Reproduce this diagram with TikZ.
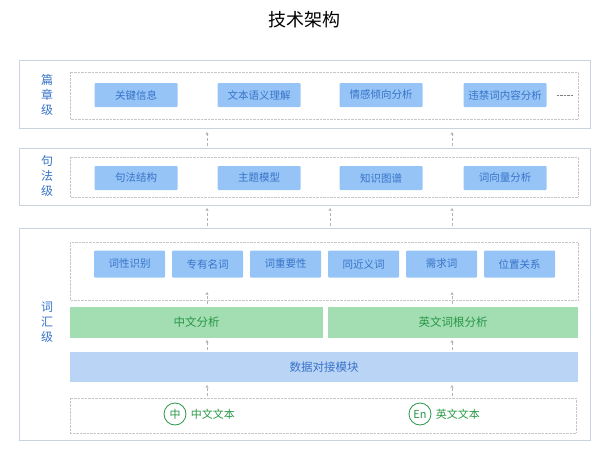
\documentclass[tikz,border=0pt]{standalone}
\usepackage{fontspec}
\setmainfont{Noto Sans CJK SC}
\usetikzlibrary{positioning,arrows.meta}
\definecolor{myblue}{RGB}{150,196,246}
\definecolor{mylightblue}{RGB}{186,212,246}
\definecolor{mytext}{RGB}{55,115,200}
\definecolor{mygreen}{RGB}{162,222,178}
\definecolor{mygtext}{RGB}{40,150,70}
\definecolor{myframe}{RGB}{200,212,222}
\begin{document}
\begin{tikzpicture}[x=1pt,y=-1pt,
  layer/.style={draw=myframe,line width=0.8pt},
  dotbox/.style={draw=gray!45,densely dotted},
  fbox/.style={fill=myblue,rounded corners=1pt,text=mytext,font=\fontsize{10.5}{12}\selectfont,
    minimum height=24pt,inner sep=0pt},
  gbox/.style={fill=mygreen,text=mygtext,font=\fontsize{11.5}{13}\selectfont,inner sep=0pt},
  lvl/.style={text=mytext,font=\fontsize{12}{15}\selectfont,align=center},
  up/.style={-{Stealth[length=3pt,width=3pt]},densely dashed,gray!60,thin},
  icon/.style={circle,draw=mygtext,thick,text=mygtext,minimum size=22pt,inner sep=0pt,font=\fontsize{11}{12}\selectfont}]
  \useasboundingbox (0,0) rectangle (608,455);

  \node[font=\fontsize{18}{20}\selectfont] (title) at (304,20) {技术架构};

  % layer frames
  \draw[layer] (19,60) rectangle (590,128);
  \draw[layer] (19,148) rectangle (590,205);
  \draw[layer] (19,228) rectangle (590,440);
  \draw[dotbox] (70,72) rectangle (578,119);
  \draw[dotbox] (70,157) rectangle (578,197);
  \draw[dotbox] (70,242) rectangle (578,300);
  \draw[dotbox] (70,398) rectangle (576,433);

  \node[lvl] (l1) at (47,95) {篇\\章\\级};
  \node[lvl] (l2) at (47,176) {句\\法\\级};
  \node[lvl] (l3) at (47,322) {词\\汇\\级};

  % top level
  \node[fbox,minimum width=83pt] (a1) at (136,95) {关键信息};
  \node[fbox,minimum width=83pt] (a2) at (259,95) {文本语义理解};
  \node[fbox,minimum width=83pt] (a3) at (381,95) {情感倾向分析};
  \node[fbox,minimum width=83pt] (a4) at (505,95) {违禁词内容分析};
  \coordinate[right=10pt of a4] (more);
  \draw[gray,densely dotted] (more) -- ++(16,0);

  % middle level
  \node[fbox,minimum width=83pt] (b1) at (136,178) {句法结构};
  \node[fbox,minimum width=83pt] (b2) at (259,178) {主题模型};
  \node[fbox,minimum width=83pt] (b3) at (381,178) {知识图谱};
  \node[fbox,minimum width=83pt] (b4) at (505,178) {词向量分析};

  % word level
  \foreach \t [count=\i] in {词性识别,专有名词,词重要性,同近义词,需求词,位置关系}
    \node[fbox,minimum width=71pt,minimum height=27pt] (c\i) at ({129.5+78*(\i-1)},264) {\t};

  \node[gbox,minimum width=253pt,minimum height=31pt] (g1) at (196.5,322) {中文分析};
  \node[gbox,minimum width=250pt,minimum height=31pt] (g2) at (453,322) {英文词根分析};
  \node[fbox,fill=mylightblue,rounded corners=0pt,minimum width=508pt,minimum height=30pt,
    font=\fontsize{11.5}{13}\selectfont] (data) at (324,367) {数据对接模块};

  \node[icon] (zh) at (175,414) {中};
  \node[text=mygtext,right=1pt of zh,font=\fontsize{11}{12}\selectfont] (zht) {中文文本};
  \node[icon] (en) at (420,414) {En};
  \node[text=mygtext,right=1pt of en,font=\fontsize{11}{12}\selectfont] (ent) {英文文本};

  % arrows
  \foreach \x in {207,452} {
    \draw[up] (\x,146) -- (\x,132);
    \draw[up] (\x,304) -- (\x,292);
    \draw[up] (\x,350) -- (\x,340);
    \draw[up] (\x,396) -- (\x,385);
  }
  \foreach \x in {207,330,452}
    \draw[up] (\x,226) -- (\x,208);
\end{tikzpicture}
\end{document}
